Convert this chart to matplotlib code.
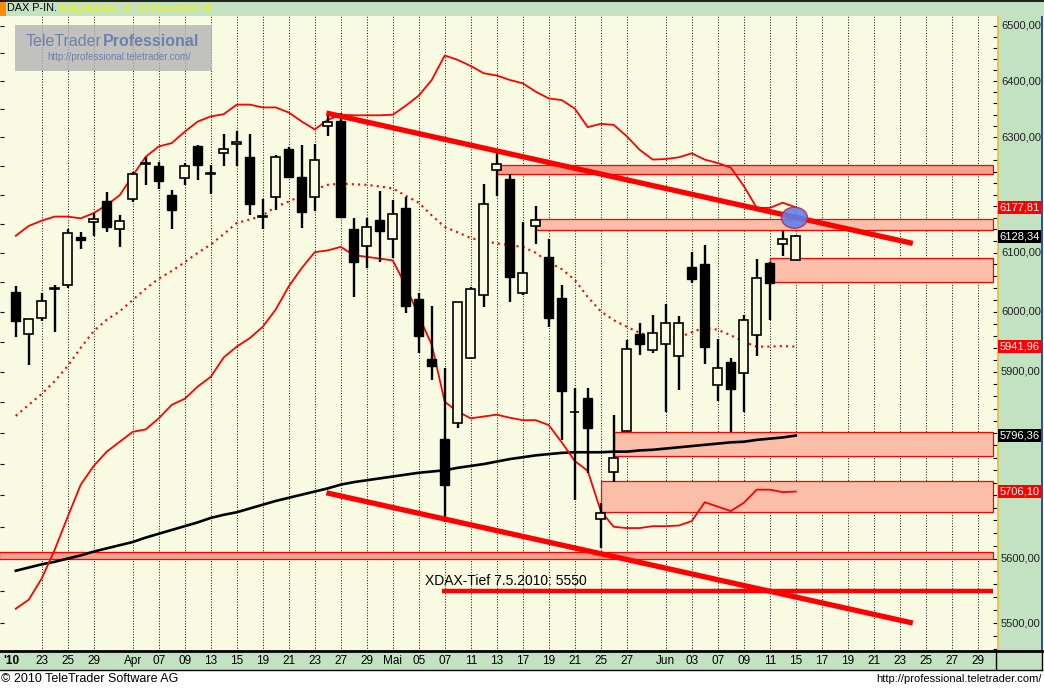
import numpy as np
import matplotlib

matplotlib.use("Agg")
import matplotlib.pyplot as plt
from matplotlib.patches import Rectangle, Ellipse
from matplotlib.lines import Line2D
from matplotlib.transforms import ScaledTranslation, blended_transform_factory
from matplotlib.ticker import NullLocator

plt.rcParams["font.family"] = ["Liberation Sans", "DejaVu Sans"]

W, H = 1044, 688

# DAX daily candles, index 0 = 19.03.2010 ... index 60 = 15.06.2010
opens = [6033, 5963, 5989, 6039, 6046, 6127, 6152, 6189, 6141, 6192,
         6254, 6250, 6200, 6228, 6285, 6236, 6272, 6288, 6265, 6162,
         6195, 6280, 6230, 6195, 6320, 6329, 6141, 6112, 6156, 6124,
         6176, 6021, 5921, 5791, 5816, 5923, 6028, 6243, 6227, 6031,
         6145, 6092, 6023, 5834, 5858, 5662, 5738, 5804, 5963, 5936,
         5946, 5926, 6075, 6081, 5878, 5917, 5898, 5961, 6083, 6115,
         6088]
highs = [6043, 5988, 6031, 6045, 6140, 6135, 6169, 6204, 6164, 6240,
         6265, 6257, 6208, 6255, 6287, 6252, 6306, 6311, 6306, 6192,
         6269, 6283, 6287, 6288, 6340, 6343, 6159, 6159, 6206, 6191,
         6196, 6031, 6009, 5906, 6017, 6042, 6218, 6272, 6236, 6152,
         6181, 6124, 6045, 5873, 5873, 5688, 5830, 5953, 5981, 5995,
         6013, 5993, 6102, 6114, 5955, 5923, 5995, 6090, 6085, 6137,
         6130]
lows = [5958, 5912, 5984, 5967, 6040, 6106, 6128, 6135, 6109, 6188,
        6216, 6210, 6140, 6217, 6226, 6201, 6250, 6250, 6164, 6141,
        6174, 6230, 6142, 6172, 6302, 6161, 6025, 6074, 6085, 6091,
        5998, 5931, 5887, 5657, 5808, 5921, 6008, 6198, 6016, 6028,
        6115, 5974, 5789, 5693, 5736, 5617, 5722, 5804, 5928, 5932,
        5835, 5871, 6048, 5913, 5853, 5802, 5835, 5927, 5986, 6094,
        6088]
closes = [5984, 5988, 6018, 6040, 6133, 6121, 6158, 6144, 6154, 6236,
          6255, 6224, 6174, 6250, 6252, 6237, 6279, 6291, 6183, 6163,
          6265, 6231, 6170, 6260, 6328, 6161, 6085, 6144, 6137, 6167,
          6009, 5960, 5910, 5717, 6017, 6038, 6183, 6253, 6058, 6065,
          6156, 5990, 5869, 5835, 5808, 5672, 5760, 5938, 5947, 5965,
          5981, 5981, 6056, 5941, 5906, 5872, 5986, 6057, 6049, 6124,
          6128]

# boll_OLD(20, 2, -2)
boll_upper = [6129, 6146, 6155, 6162, 6162, 6159, 6168, 6182, 6199, 6233,
              6266, 6284, 6290, 6310, 6328, 6337, 6341, 6358, 6358, 6353,
              6353, 6344, 6328, 6314, 6331, 6340, 6339, 6339, 6339, 6340,
              6356, 6374, 6402, 6446, 6438, 6427, 6414, 6410, 6402, 6396,
              6381, 6369, 6366, 6351, 6318, 6324, 6322, 6302, 6278, 6261,
              6262, 6265, 6272, 6261, 6255, 6247, 6215, 6177, 6177, 6186,
              6178]
boll_mid = [5828, 5846, 5864, 5885, 5910, 5940, 5968, 5987, 6001, 6020,
            6039, 6056, 6069, 6084, 6100, 6114, 6132, 6151, 6157, 6164,
            6179, 6188, 6198, 6209, 6217, 6219, 6218, 6217, 6214, 6211,
            6198, 6186, 6164, 6144, 6135, 6125, 6120, 6116, 6113, 6110,
            6100, 6084, 6072, 6054, 6025, 6001, 5986, 5975, 5965, 5959,
            5957, 5957, 5966, 5974, 5970, 5961, 5950, 5942, 5942, 5943,
            5942]
boll_lower = [5522, 5536, 5569, 5614, 5666, 5717, 5747, 5770, 5786, 5802,
              5806, 5824, 5846, 5856, 5876, 5892, 5924, 5942, 5956, 5975,
              6004, 6043, 6074, 6101, 6104, 6110, 6096, 6093, 6090, 6087,
              6044, 5993, 5945, 5851, 5835, 5824, 5827, 5830, 5825, 5821,
              5821, 5813, 5785, 5755, 5739, 5675, 5650, 5648, 5648, 5651,
              5651, 5652, 5659, 5689, 5682, 5675, 5688, 5709, 5709, 5705,
              5706]
# move(200, 0)
ma200 = [5581, 5586, 5591, 5595, 5600, 5605, 5611, 5616, 5621, 5626,
         5633, 5639, 5645, 5651, 5657, 5664, 5669, 5673, 5679, 5685,
         5691, 5696, 5701, 5706, 5711, 5717, 5721, 5724, 5727, 5730,
         5733, 5736, 5738, 5740, 5744, 5747, 5750, 5754, 5758, 5761,
         5764, 5766, 5768, 5769, 5769, 5769, 5770, 5770, 5772, 5773,
         5775, 5777, 5779, 5781, 5783, 5785, 5786, 5789, 5791, 5793,
         5796]

# date axis (index of trading day, future days continue every 2 slots)
x_labels = ["23", "25", "29", "Apr", "07", "09", "13", "15", "19", "21",
            "23", "27", "29", "Mai", "05", "07", "11", "13", "17", "19",
            "21", "25", "27", "Jun", "03", "07", "09", "11", "15", "17",
            "19", "21", "23", "25", "27", "29"]
x_label_pos = [2, 4, 6, 9, 11, 13, 15, 17, 19, 21,
               23, 25, 27, 29, 31, 33, 35, 37, 39, 41,
               43, 45, 47, 50, 52, 54, 56, 58, 60, 62,
               64, 66, 68, 70, 72, 74]

# support / resistance zones
zone_start = [37, 40, 58, 46, 45, -1.3]
zone_low = [6236, 6139, 6051, 5763, 5673, 5600]
zone_high = [6252, 6157, 6091, 5801, 5723, 5610]
zone_dark = [True, False, False, False, False, True]

# trend channel
trend_x = [23.9, 69.0]
resist_y = [6343, 6116]
support_y = [5704, 5500]
tief_level = 5550
tief_start = 32.8

y_levels = [5500, 5600, 5700, 5800, 5900, 6000, 6100, 6200, 6300, 6400, 6500]
tag_values = [6177.81, 6128.34, 5941.96, 5796.36, 5706.10]
tag_colors = ["#ff0000", "#000000", "#ff0000", "#000000", "#ff0000"]

BG = "#f8fbe2"
BAND = "#c2e2c2"
ZONE_LIGHT = "#fbbea8"
ZONE_DARK = "#f6a190"
RED = "#ff0000"
X_LEFT, X_RIGHT, X_END = -1.21, 75.48, 75.17
Y_LOW, Y_HIGH = 5457.9, 6518.4


def fx(px):
    return px / W


def fy(py):
    return 1 - py / H


fig = plt.figure(figsize=(W / 100, H / 100), dpi=100, facecolor="white")

top_px, bot_px, right_px = 15.5, 650.5, 997
ax = fig.add_axes([0, fy(bot_px), fx(right_px), (bot_px - top_px) / H], facecolor=BG)
ax.set_yscale("log")
ax.set_ylim(Y_LOW, Y_HIGH)
ax.set_xlim(X_LEFT, X_RIGHT)
ax.set_xticks([])
ax.yaxis.set_minor_locator(NullLocator())
ax.set_yticks(list(range(5500, 6501, 50)))
ax.tick_params(axis="y", which="major", direction="in", length=3, width=0.8,
               left=True, right=False, labelleft=False)
for s in ax.spines.values():
    s.set_visible(False)

axr = ax.twinx()
axr.set_yscale("log")
axr.set_ylim(Y_LOW, Y_HIGH)
axr.yaxis.set_minor_locator(NullLocator())
axr.set_yticks(list(range(5460, 6520, 20)))
axr.tick_params(axis="y", direction="in", length=3, width=0.8, labelright=False)
for s in axr.spines.values():
    s.set_visible(False)

# vertical dotted grid
for p in x_label_pos:
    ax.axvline(p, color="#222222", lw=0.75, ls=(0, (1, 1.6)), zorder=1)

# zones
for s0, lo, hi, dark in zip(zone_start, zone_low, zone_high, zone_dark):
    ax.add_patch(Rectangle((s0, lo), X_END - s0, hi - lo,
                           facecolor=ZONE_DARK if dark else ZONE_LIGHT,
                           edgecolor=RED, lw=0.9, zorder=2))

idx = np.arange(len(opens))
o = np.array(opens, float)
h = np.array(highs, float)
l = np.array(lows, float)
c = np.array(closes, float)
up = c >= o
body_lo = np.minimum(o, c)
body_h = np.maximum(np.abs(c - o), 0.8)

# indicators
ax.plot(idx, ma200, color="black", lw=1.9, zorder=3)
ax.plot(idx, boll_upper, color=RED, lw=1.3, zorder=3)
ax.plot(idx, boll_lower, color=RED, lw=1.3, zorder=3)
ax.plot(idx, boll_mid, color=RED, lw=1.5, ls=(0, (1, 2)), zorder=3)

# candles
ax.vlines(idx, l, h, color="black", lw=1.7, zorder=4)
ax.bar(idx[up], body_h[up], bottom=body_lo[up], width=0.66,
       facecolor=BG, edgecolor="black", lw=1.2, zorder=5)
ax.bar(idx[~up], body_h[~up], bottom=body_lo[~up], width=0.66,
       facecolor="black", edgecolor="black", lw=1.0, zorder=5)

# trend lines
ax.plot(trend_x, resist_y, color=RED, lw=3.8, solid_capstyle="butt", zorder=6)
ax.plot(trend_x, support_y, color=RED, lw=3.8, solid_capstyle="butt", zorder=6)
ax.hlines(tief_level, tief_start, X_END, color=RED, lw=3.2, zorder=6)
ax.text(31.5, 5565, "XDAX-Tief 7.5.2010: 5550", fontsize=10, ha="left",
        va="center", color="black", zorder=7)

# blue marker at the break point
mark = Ellipse((0, 0), 0.26, 0.21, facecolor="#5a80ee", edgecolor="#d02040",
               lw=1.0, alpha=0.88, zorder=8,
               transform=fig.dpi_scale_trans + ScaledTranslation(59.9, 6160, ax.transData))
ax.add_artist(mark)

# right price panel
axp = fig.add_axes([fx(998), fy(bot_px), fx(44), (bot_px - top_px) / H], facecolor=BAND)
axp.set_yscale("log")
axp.set_ylim(Y_LOW, Y_HIGH)
axp.set_xlim(0, 1)
axp.yaxis.set_minor_locator(NullLocator())
axp.set_xticks([])
axp.set_yticks([])
for k in ("top", "bottom"):
    axp.spines[k].set_visible(False)
axp.spines["left"].set_color("#e8c040")
axp.spines["left"].set_linewidth(1.3)
axp.spines["right"].set_color("#1a3cc0")
axp.spines["right"].set_linewidth(1.3)
for v in y_levels:
    # levels hidden under a value tag are not visible in the original
    if min(abs(np.log(v / t)) for t in tag_values) < 0.004:
        continue
    axp.text(0.07, v, f"{v},00", ha="left", va="center", fontsize=8, color="#202020")
for v, col in zip(tag_values, tag_colors):
    axp.text(0.03, v, f"{v:.2f}".replace(".", ","), ha="left", va="center",
             fontsize=8, color="white", zorder=5,
             bbox=dict(boxstyle="square,pad=0.15", facecolor=col, edgecolor="none"))

# date band
axb = fig.add_axes([0, fy(670), fx(1042), (670 - bot_px) / H], facecolor=BAND)
axb.set_xticks([])
axb.set_yticks([])
axb.spines["left"].set_visible(False)
axb.spines["top"].set_linewidth(2)
axb.spines["bottom"].set_linewidth(1)
axb.spines["right"].set_linewidth(1)
axb.axvline(996 / 1042, color="black", lw=1)
trans = blended_transform_factory(ax.transData, axb.transAxes)
for p, lab in zip(x_label_pos, x_labels):
    axb.text(p, 0.45, lab, transform=trans, ha="center", va="center",
             fontsize=8.5, color="black")
axb.text(0.003, 0.45, "'10", transform=axb.transAxes, ha="left", va="center",
         fontsize=8.5, fontweight="bold")

# header strip
fig.add_artist(Rectangle((0, fy(15.5)), 1, 15.5 / H, transform=fig.transFigure,
                         facecolor=BAND, edgecolor="none", zorder=1))
fig.add_artist(Rectangle((0, fy(15.5)), fx(5.5), 15 / H, transform=fig.transFigure,
                         facecolor="#ff8c00", edgecolor="none", zorder=2))
fig.add_artist(Line2D([0, 1], [fy(0.6), fy(0.6)], transform=fig.transFigure,
                      color="black", lw=1.2, zorder=2))
fig.text(fx(7), fy(8), "DAX P-IN.", fontsize=7.8, va="center", color="black")
fig.text(fx(59), fy(8), "boll_OLD(20, 2, -2) move(200, 0)", fontsize=7.6,
         va="center", color="#f4f400")

# watermark logo
fig.add_artist(Rectangle((fx(15), fy(71)), fx(197), 46 / H, transform=fig.transFigure,
                         facecolor="#b4b4b4", edgecolor="none", alpha=0.8, zorder=20))
fig.text(fx(26), fy(42), "TeleTrader", fontsize=11.5, color="#6f7fb0",
         va="center", zorder=21)
fig.text(fx(103), fy(42), "Professional", fontsize=11.5, fontweight="bold",
         color="#6f7fb0", va="center", zorder=21)
fig.text(fx(47), fy(57.5), "http://professional.teletrader.com/", fontsize=7,
         color="#6f7fb0", va="center", zorder=21)

# footer
fig.text(fx(1), fy(679), "© 2010 TeleTrader Software AG", fontsize=9, va="center")
fig.text(fx(1042), fy(679), "http://professional.teletrader.com/", fontsize=8,
         va="center", ha="right")

fig.savefig("out.png", dpi=100)
